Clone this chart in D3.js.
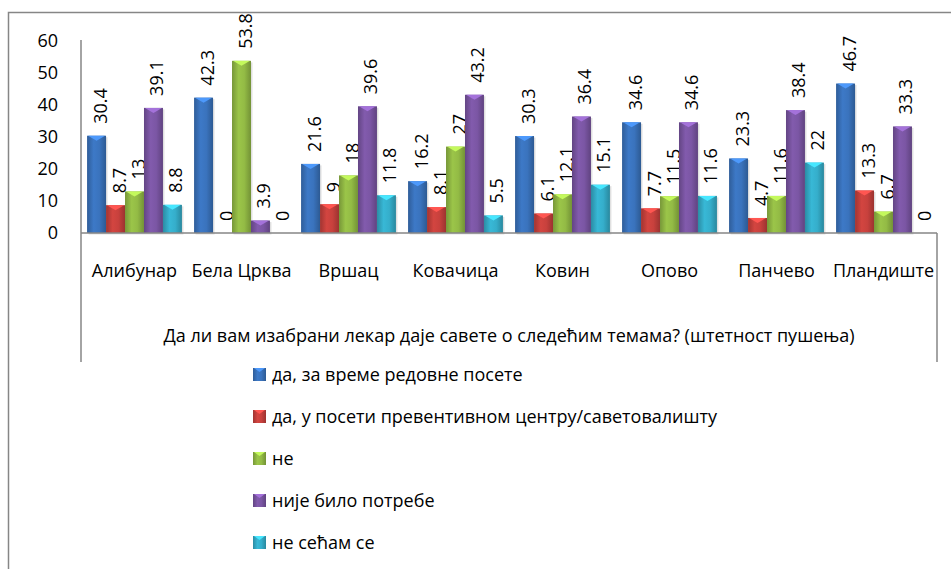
<!DOCTYPE html>
<html>
<head>
<meta charset="utf-8">
<script src="https://cdn.jsdelivr.net/npm/d3@7"></script>
<style>
  body { margin: 0; background: #fff; }
  text { font-family: "Open Sans", "Noto Sans", sans-serif; fill: #000; }
</style>
</head>
<body>
<svg id="chart" width="951" height="569"></svg>
<script>
// data
var categories = ["Алибунар", "Бела Црква", "Вршац", "Ковачица", "Ковин", "Опово", "Панчево", "Пландиште"];
var seriesNames = [
  "да, за време редовне посете",
  "да, у посети превентивном центру/саветовалишту",
  "не",
  "није било потребе",
  "не сећам се"
];
var regularVisit = [30.4, 42.3, 21.6, 16.2, 30.3, 34.6, 23.3, 46.7];
var preventiveCenter = [8.7, 0, 9, 8.1, 6.1, 7.7, 4.7, 13.3];
var no = [13, 53.8, 18, 27, 12.1, 11.5, 11.6, 6.7];
var noNeed = [39.1, 3.9, 39.6, 43.2, 36.4, 34.6, 38.4, 33.3];
var dontRemember = [8.8, 0, 11.8, 5.5, 15.1, 11.6, 22, 0];
var yTicks = [0, 10, 20, 30, 40, 50, 60];
var axisTitle = "Да ли вам изабрани лекар  даје савете о следећим темама? (штетност пушења)";

var seriesValues = [regularVisit, preventiveCenter, no, noNeed, dontRemember];
var colors = ["#3a73bd", "#c8413d", "#93bb45", "#7b56a4", "#35aecb"];

var svg = d3.select("#chart");
var defs = svg.append("defs");

// horizontal gradient for the glossy bar look
colors.forEach(function(c, i) {
  var g = defs.append("linearGradient").attr("id", "grad" + i)
    .attr("x1", "0%").attr("x2", "100%").attr("y1", "0%").attr("y2", "0%");
  g.append("stop").attr("offset", "0%").attr("stop-color", d3.color(c).darker(0.6));
  g.append("stop").attr("offset", "35%").attr("stop-color", d3.color(c).brighter(0.15));
  g.append("stop").attr("offset", "65%").attr("stop-color", c);
  g.append("stop").attr("offset", "100%").attr("stop-color", d3.color(c).darker(0.7));
});

// outer frame
svg.append("rect")
  .attr("x", 8.5).attr("y", 12.5)
  .attr("width", 960).attr("height", 600)
  .attr("fill", "none").attr("stroke", "#868686").attr("stroke-width", 1.5);

var plotLeft = 81, plotRight = 937, plotTop = 41, plotBase = 233;

var x0 = d3.scaleBand().domain(categories).range([plotLeft, plotRight]).padding(0);
var x1 = d3.scaleBand().domain(d3.range(seriesNames.length))
  .range([0, x0.bandwidth()]).paddingInner(0).paddingOuter(0.32);
var y = d3.scaleLinear().domain([0, 60]).range([plotBase, plotTop]);

// y axis
var yAxis = d3.axisLeft(y).tickValues(yTicks).tickSize(0).tickPadding(23).tickFormat(d3.format("d"));
var yg = svg.append("g").attr("transform", "translate(" + plotLeft + ",0)").call(yAxis);
yg.select(".domain").remove();
yg.selectAll("text").style("font-family", "'Open Sans', sans-serif").style("font-size", "18px").attr("fill", "#000");

// axis frame lines
svg.append("line").attr("x1", plotLeft).attr("x2", plotLeft).attr("y1", plotTop - 1).attr("y2", 362)
  .attr("stroke", "#868686").attr("stroke-width", 1.5);
svg.append("line").attr("x1", plotRight).attr("x2", plotRight).attr("y1", plotBase).attr("y2", 362)
  .attr("stroke", "#868686").attr("stroke-width", 1.5);

// bars
var groups = svg.append("g").selectAll("g")
  .data(categories)
  .enter().append("g")
  .attr("transform", function(d) { return "translate(" + x0(d) + ",0)"; });

var cells = groups.selectAll("g")
  .data(function(d, ci) { return seriesValues.map(function(vals, si) { return { s: si, v: vals[ci] }; }); })
  .enter().append("g");

cells.filter(function(d) { return d.v > 0; })
  .append("rect")
  .attr("x", function(d) { return x1(d.s) + 1.5; })
  .attr("y", function(d) { return y(d.v) + 1.5; })
  .attr("width", x1.bandwidth())
  .attr("height", function(d) { return plotBase - y(d.v); })
  .attr("fill", "#000").attr("opacity", 0.12);

cells.filter(function(d) { return d.v > 0; })
  .append("rect")
  .attr("x", function(d) { return x1(d.s); })
  .attr("y", function(d) { return y(d.v); })
  .attr("width", x1.bandwidth())
  .attr("height", function(d) { return plotBase - y(d.v); })
  .attr("fill", function(d) { return "url(#grad" + d.s + ")"; });

// bevel triangle on top of each bar
cells.filter(function(d) { return d.v > 0; })
  .append("path")
  .attr("d", function(d) {
    var bx = x1(d.s), bw = x1.bandwidth(), by = y(d.v);
    return "M" + (bx + 1) + "," + by + "L" + (bx + bw - 1) + "," + by + "L" + (bx + bw / 2) + "," + (by + 5) + "Z";
  })
  .attr("fill", function(d) { return d3.color(colors[d.s]).brighter(0.8); });

// value labels
cells.append("text")
  .attr("transform", function(d) {
    var cx = x1(d.s) + x1.bandwidth() / 2 + 10;
    var cy = y(d.v) - 12;
    return "translate(" + cx + "," + cy + ") rotate(-90)";
  })
  .style("font-size", "18px")
  .text(function(d) { return d.v; });

// x baseline
svg.append("line").attr("x1", plotLeft).attr("x2", plotRight).attr("y1", plotBase).attr("y2", plotBase)
  .attr("stroke", "#868686").attr("stroke-width", 1.5);

// category labels
svg.append("g").selectAll("text")
  .data(categories)
  .enter().append("text")
  .attr("x", function(d) { return x0(d) + x0.bandwidth() / 2; })
  .attr("y", 277)
  .attr("text-anchor", "middle")
  .style("font-size", "18px")
  .text(function(d) { return d; });

// axis title
svg.append("text")
  .attr("x", (plotLeft + plotRight) / 2)
  .attr("y", 342)
  .attr("text-anchor", "middle")
  .style("font-size", "18px")
  .text(axisTitle);

// legend
var legend = svg.append("g").selectAll("g")
  .data(seriesNames)
  .enter().append("g")
  .attr("transform", function(d, i) { return "translate(253," + (375 + i * 42) + ")"; });

legend.append("rect")
  .attr("x", 0).attr("y", -7).attr("width", 13).attr("height", 13)
  .attr("fill", function(d, i) { return "url(#grad" + i + ")"; });
legend.append("path")
  .attr("d", "M1,-7L12,-7L6.5,-3Z")
  .attr("fill", function(d, i) { return d3.color(colors[i]).brighter(0.8); });
legend.append("text")
  .attr("x", 19).attr("y", 6)
  .style("font-size", "18px")
  .text(function(d) { return d; });
</script>
</body>
</html>
